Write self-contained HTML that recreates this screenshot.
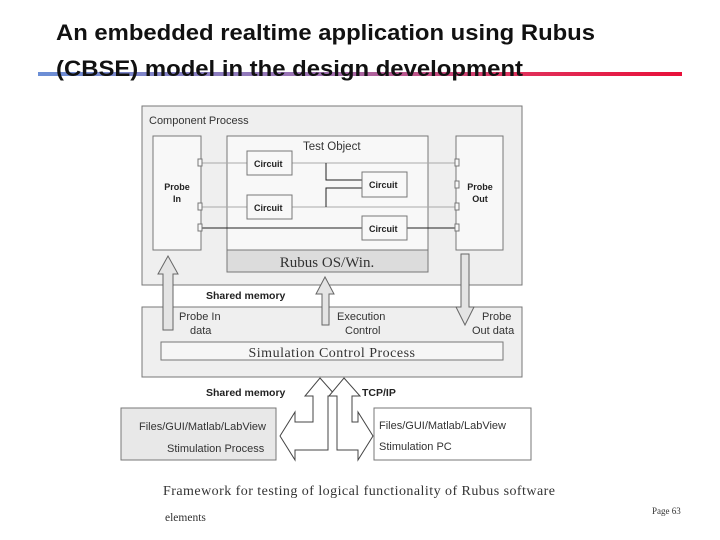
<!DOCTYPE html>
<html><head><meta charset="utf-8"><style>
body{margin:0;background:#fff;width:720px;height:540px;overflow:hidden}
svg{display:block}
.s{font-family:"Liberation Sans",sans-serif}
.r{font-family:"Liberation Serif",serif}
</style></head><body>
<svg width="720" height="540" viewBox="0 0 720 540">
<defs><linearGradient id="g" x1="0" x2="1"><stop offset="0" stop-color="#6b8fd6"/><stop offset="0.45" stop-color="#a070b0"/><stop offset="0.75" stop-color="#e0305a"/><stop offset="1" stop-color="#e8103a"/></linearGradient></defs>
<rect x="38" y="72" width="644" height="4" fill="url(#g)"/>
<text x="56" y="40" class="s" font-size="22" font-weight="bold" fill="#111" textLength="539" lengthAdjust="spacingAndGlyphs">An embedded realtime application using Rubus</text>
<text x="56" y="76" class="s" font-size="22" font-weight="bold" fill="#111" textLength="467" lengthAdjust="spacingAndGlyphs">(CBSE) model in the design development</text>

<g stroke="#777" stroke-width="1">
<rect x="142" y="106" width="380" height="179" fill="#efefef"/>
<rect x="153" y="136" width="48" height="114" fill="#f8f8f8"/>
<rect x="227" y="136" width="201" height="114" fill="#f8f8f8"/>
<rect x="227" y="250" width="201" height="22" fill="#dcdcdc"/>
<rect x="456" y="136" width="47" height="114" fill="#f8f8f8"/>
<rect x="142" y="307" width="380" height="70" fill="#efefef"/>
<rect x="161" y="342" width="342" height="18" fill="#f6f6f6"/>
<rect x="121" y="408" width="155" height="52" fill="#e8e8e8"/>
<rect x="374" y="408" width="157" height="52" fill="#fff"/>
</g>
<g stroke="#aaa" fill="none">
<line x1="201" y1="163" x2="456" y2="163"/>
<line x1="201" y1="207" x2="456" y2="207"/>
</g>
<g stroke="#222" fill="none">
<line x1="201" y1="228" x2="456" y2="228"/>
<polyline points="326,163 326,180 362,180"/>
<polyline points="326,207 326,188 362,188"/>
</g>
<g stroke="#777" fill="#f8f8f8">
<rect x="247" y="151" width="45" height="24"/>
<rect x="247" y="195" width="45" height="24"/>
<rect x="362" y="172" width="45" height="25"/>
<rect x="362" y="216" width="45" height="24"/>
<rect x="198" y="159" width="4" height="7"/><rect x="198" y="203" width="4" height="7"/><rect x="198" y="224" width="4" height="7"/>
<rect x="455" y="159" width="4" height="7"/><rect x="455" y="181" width="4" height="7"/><rect x="455" y="203" width="4" height="7"/><rect x="455" y="224" width="4" height="7"/>
</g>
<g class="s" font-size="9" font-weight="bold" fill="#222">
<text x="254" y="167">Circuit</text><text x="254" y="211">Circuit</text>
<text x="369" y="188">Circuit</text><text x="369" y="232">Circuit</text>
<text x="177" y="190" text-anchor="middle">Probe</text><text x="177" y="202" text-anchor="middle">In</text>
<text x="480" y="190" text-anchor="middle">Probe</text><text x="480" y="202" text-anchor="middle">Out</text>
<text x="206" y="299" font-size="10.5">Shared memory</text>
<text x="206" y="396" font-size="10.5">Shared memory</text>
<text x="362" y="396" font-size="10.5">TCP/IP</text>
</g>
<g class="s" fill="#333">
<text x="149" y="124" font-size="11">Component Process</text>
<text x="303" y="150" font-size="11.5">Test Object</text>
<text x="179" y="320" font-size="11">Probe In</text><text x="190" y="334" font-size="11">data</text>
<text x="337" y="320" font-size="11">Execution</text><text x="345" y="334" font-size="11">Control</text>
<text x="482" y="320" font-size="11">Probe</text><text x="472" y="334" font-size="11">Out data</text>
<text x="139" y="430" font-size="11">Files/GUI/Matlab/LabView</text>
<text x="167" y="452" font-size="11">Stimulation Process</text>
<text x="379" y="429" font-size="11">Files/GUI/Matlab/LabView</text>
<text x="379" y="450" font-size="11">Stimulation PC</text>
</g>
<text x="327" y="267" class="r" font-size="15" fill="#333" text-anchor="middle">Rubus OS/Win.</text>
<text x="332" y="357" class="r" font-size="14" fill="#333" text-anchor="middle" letter-spacing="0.5">Simulation  Control Process</text>
<g stroke="#666" fill="#e4e4e4">
<polygon points="163,330 173,330 173,274 178,274 168,256 158,274 163,274"/>
<polygon points="322,325 329,325 329,294 334,294 325,277 316,294 322,294"/>
<polygon points="461,254 469,254 469,307 474,307 465,325 456,307 461,307"/>
</g>
<g stroke="#444" fill="#fff">
<polygon points="320,378 336,396 328,396 328,450 295,450 295,460 280,436 295,412 295,422 313,422 313,396 305,396"/>
<polygon points="344,378 360,396 352,396 352,422 358,422 358,412 373,436 358,460 358,450 337,450 337,396 329,396"/>
</g>
<text x="163" y="495" class="r" font-size="14" fill="#333" textLength="392" lengthAdjust="spacing">Framework for testing of logical functionality of Rubus software</text>
<text x="165" y="521" class="r" font-size="11.5" fill="#333">elements</text>
<text x="652" y="514" class="r" font-size="9" fill="#333">Page 63</text>
</svg>
</body></html>
